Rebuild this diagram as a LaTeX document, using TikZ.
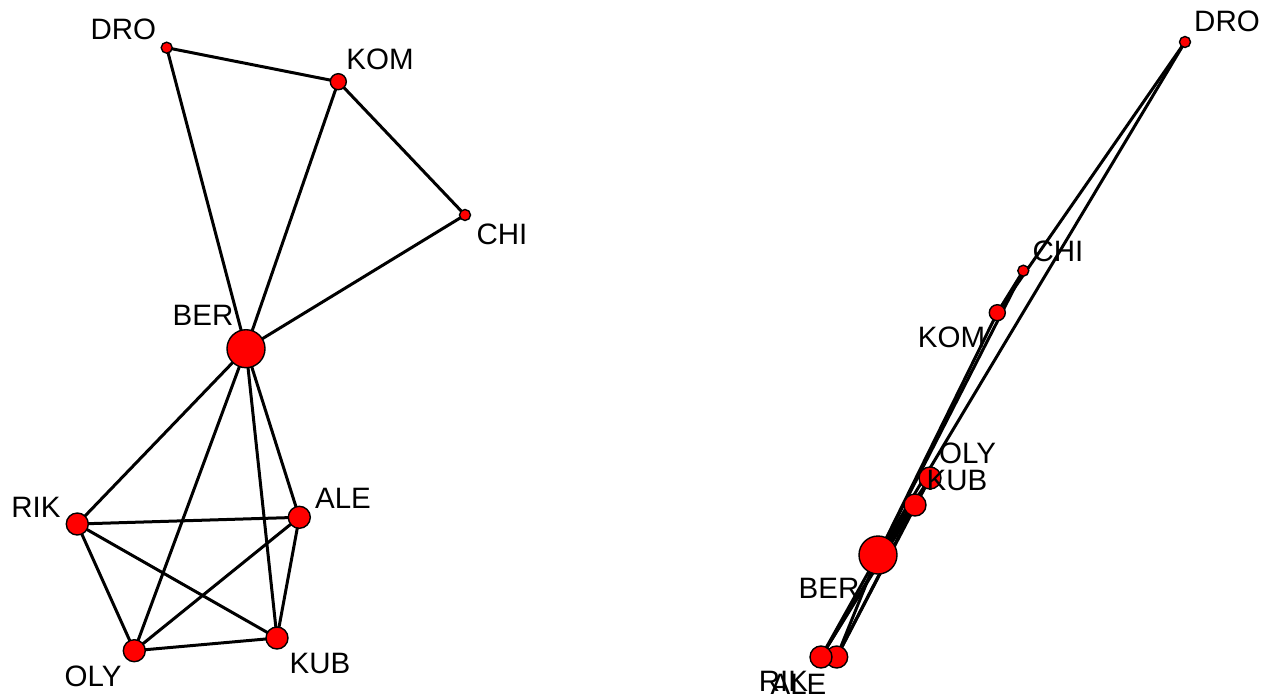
\documentclass[tikz,border=0pt]{standalone}
\usepackage{fontspec}
\setmainfont{Liberation Sans}
\usetikzlibrary{backgrounds}
\tikzset{
  vtx/.style={circle, draw=black, line width=1.4pt, fill=red, inner sep=0pt, minimum size=#1},
  lbl/.style={font=\fontsize{29.5}{31}\selectfont, inner sep=0pt, anchor=center},
  link/.style={line width=3pt, black},
}
\begin{document}
\begin{tikzpicture}[x=1pt, y=-1pt]
\useasboundingbox (0,0) rectangle (1271,698);

% ---- first layout ----
\node[vtx=11pt] (lDRO) at (166.7,47.7) {};
\node[vtx=16pt] (lKOM) at (338.3,81.7) {};
\node[vtx=11pt] (lCHI) at (465,215) {};
\node[vtx=38pt] (lBER) at (246,348.7) {};
\node[vtx=22pt] (lRIK) at (77.3,524) {};
\node[vtx=22pt] (lALE) at (299.3,517.3) {};
\node[vtx=22pt] (lOLY) at (134.3,650.7) {};
\node[vtx=22pt] (lKUB) at (277,638) {};

\begin{pgfonlayer}{background}
\draw[link] (lDRO.center) -- (lKOM.center);
\draw[link] (lDRO.center) -- (lBER.center);
\draw[link] (lKOM.center) -- (lBER.center);
\draw[link] (lKOM.center) -- (lCHI.center);
\draw[link] (lCHI.center) -- (lBER.center);
\draw[link] (lBER.center) -- (lRIK.center);
\draw[link] (lBER.center) -- (lOLY.center);
\draw[link] (lBER.center) -- (lKUB.center);
\draw[link] (lBER.center) -- (lALE.center);
\draw[link] (lRIK.center) -- (lALE.center);
\draw[link] (lRIK.center) -- (lOLY.center);
\draw[link] (lRIK.center) -- (lKUB.center);
\draw[link] (lALE.center) -- (lOLY.center);
\draw[link] (lALE.center) -- (lKUB.center);
\draw[link] (lOLY.center) -- (lKUB.center);
\end{pgfonlayer}

\node[lbl] (tlDRO) at (123.3,29) {DRO};
\node[lbl] (tlKOM) at (380,59) {KOM};
\node[lbl] (tlCHI) at (502,234) {CHI};
\node[lbl] (tlBER) at (203,315) {BER};
\node[lbl] (tlRIK) at (36,507) {RIK};
\node[lbl] (tlALE) at (343,498) {ALE};
\node[lbl] (tlOLY) at (93,676) {OLY};
\node[lbl] (tlKUB) at (320,663) {KUB};

% ---- second layout ----
\node[vtx=11pt] (rDRO) at (1185,42) {};
\node[vtx=11pt] (rCHI) at (1023.3,270.7) {};
\node[vtx=16pt] (rKOM) at (997.3,312.7) {};
\node[vtx=22pt] (rOLY) at (930,478) {};
\node[vtx=22pt] (rKUB) at (915,505) {};
\node[vtx=38pt] (rBER) at (878,555) {};
\node[vtx=22pt] (rALE) at (836.7,657) {};
\node[vtx=22pt] (rRIK) at (821,657) {};

\begin{pgfonlayer}{background}
\draw[link] (rDRO.center) -- (rKOM.center);
\draw[link] (rDRO.center) -- (rBER.center);
\draw[link] (rKOM.center) -- (rBER.center);
\draw[link] (rKOM.center) -- (rCHI.center);
\draw[link] (rCHI.center) -- (rBER.center);
\draw[link] (rBER.center) -- (rRIK.center);
\draw[link] (rBER.center) -- (rOLY.center);
\draw[link] (rBER.center) -- (rKUB.center);
\draw[link] (rBER.center) -- (rALE.center);
\draw[link] (rRIK.center) -- (rALE.center);
\draw[link] (rRIK.center) -- (rOLY.center);
\draw[link] (rRIK.center) -- (rKUB.center);
\draw[link] (rALE.center) -- (rOLY.center);
\draw[link] (rALE.center) -- (rKUB.center);
\draw[link] (rOLY.center) -- (rKUB.center);
\end{pgfonlayer}

\node[lbl] (trDRO) at (1227,21) {DRO};
\node[lbl] (trCHI) at (1058,251) {CHI};
\node[lbl] (trKOM) at (951.5,337) {KOM};
\node[lbl] (trOLY) at (967.5,453) {OLY};
\node[lbl] (trKUB) at (957,480) {KUB};
\node[lbl] (trBER) at (829,588) {BER};
\node[lbl] (trRIK) at (783.5,681) {RIK};
\node[lbl] (trALE) at (798.5,684) {ALE};
\end{tikzpicture}
\end{document}
